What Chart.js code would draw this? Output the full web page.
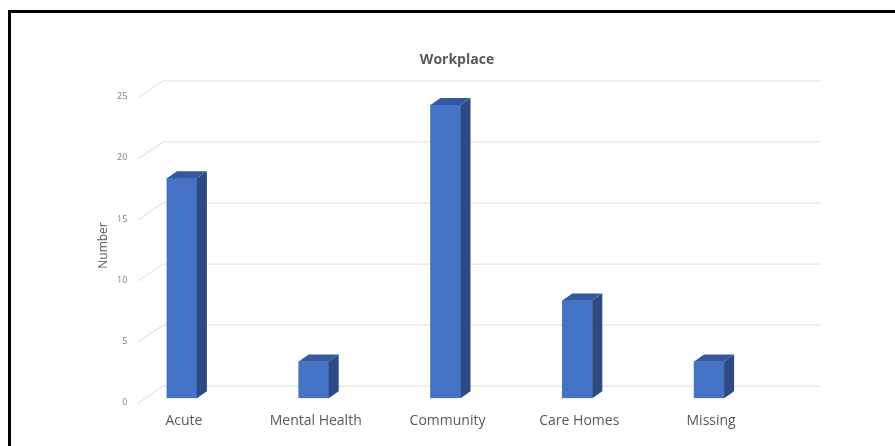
<!DOCTYPE html>
<html>
<head>
<meta charset="utf-8">
<script src="https://cdn.jsdelivr.net/npm/chart.js@4"></script>
<style>
  html, body { margin: 0; padding: 0; background: #fff; overflow: hidden; }
  #wrap { position: relative; width: 895px; height: 446px; overflow: hidden; }
  #chart { position: absolute; left: 0; top: 0; }
  .frame {
    position: absolute; left: 8px; top: 10px; width: 2000px; height: 2000px;
    border-left: 3px solid #000; border-top: 3px solid #000; pointer-events: none;
  }
</style>
</head>
<body>
<div id="wrap">
  <canvas id="chart" width="914" height="446"></canvas>
  <div class="frame"></div>
</div>
<script>
const categories = ['Acute', 'Mental Health', 'Community', 'Care Homes', 'Missing'];
const counts = [18, 3, 24, 8, 3];
const yTicks = [0, 5, 10, 15, 20, 25];

const FONT = '"Open Sans", "Noto Sans", sans-serif';
const FRONT = '#4472c4';
const SIDE = '#2c4b84';
const TOP = '#34599c';
const BAR_DEPTH = { dx: 10, dy: 7 };
const WALL = { dx: 25, dy: 17, front: 22, drop: 5, extra: 46 };

// fake 3D: back wall gridlines behind the bars, side + top faces on each bar
const depthPlugin = {
  id: 'depth',
  beforeDatasetsDraw(chart) {
    const { ctx, chartArea, scales: { y } } = chart;
    const x0 = chartArea.left + WALL.front;
    const x1 = x0 + WALL.dx;
    const x2 = chartArea.right + WALL.extra;
    ctx.save();
    ctx.strokeStyle = '#e6e6e6';
    ctx.lineWidth = 1.3;
    yTicks.forEach(v => {
      const py = y.getPixelForValue(v);
      ctx.beginPath();
      ctx.moveTo(x0, py + WALL.drop);
      ctx.lineTo(x1, py + WALL.drop - WALL.dy);
      ctx.lineTo(x2, py + WALL.drop - WALL.dy);
      ctx.stroke();
    });
    ctx.restore();
  },
  afterDatasetsDraw(chart) {
    const { ctx } = chart;
    const { dx, dy } = BAR_DEPTH;
    ctx.save();
    chart.getDatasetMeta(0).data.forEach(bar => {
      const { x, y, base, width } = bar.getProps(['x', 'y', 'base', 'width'], true);
      const l = x - width / 2, r = x + width / 2;
      ctx.fillStyle = SIDE;
      ctx.beginPath();
      ctx.moveTo(r, base);
      ctx.lineTo(r + dx, base - dy);
      ctx.lineTo(r + dx, y - dy);
      ctx.lineTo(r, y);
      ctx.closePath();
      ctx.fill();
      ctx.fillStyle = TOP;
      ctx.beginPath();
      ctx.moveTo(l, y);
      ctx.lineTo(l + dx, y - dy);
      ctx.lineTo(r + dx, y - dy);
      ctx.lineTo(r, y);
      ctx.closePath();
      ctx.fill();
    });
    ctx.restore();
  }
};

new Chart(document.getElementById('chart'), {
  type: 'bar',
  data: {
    labels: categories,
    datasets: [{
      data: counts,
      backgroundColor: FRONT,
      borderWidth: 0,
      barThickness: 30
    }]
  },
  options: {
    responsive: false,
    animation: false,
    devicePixelRatio: 1,
    layout: { padding: { left: 0, right: 0, top: 0, bottom: 3 } },
    plugins: {
      legend: { display: false },
      tooltip: { enabled: false },
      title: {
        display: true,
        text: 'Workplace',
        color: '#595959',
        font: { family: FONT, size: 14, weight: 'bold' },
        padding: { top: 52, bottom: 24 }
      }
    },
    scales: {
      x: {
        grid: { display: false, drawTicks: false },
        border: { display: false },
        ticks: {
          color: '#595959',
          font: { family: FONT, size: 14 },
          padding: 14,
          labelOffset: 2,
          maxRotation: 0
        }
      },
      y: {
        min: 0,
        max: 25,
        afterFit(scale) { scale.width = 116; },
        grid: { display: false, drawTicks: false },
        border: { display: false },
        ticks: {
          stepSize: 5,
          mirror: true,
          crossAlign: 'far',
          color: '#808080',
          font: { family: FONT, size: 9 },
          padding: 1,
          labelOffset: 4
        },
        title: {
          display: true,
          text: 'Number',
          color: '#595959',
          font: { family: FONT, size: 12 },
          padding: { top: 96, bottom: 0 }
        }
      },
      // empty spacer on the right so the plot ends before the wall does
      yRight: {
        position: 'right',
        afterFit(scale) { scale.width = 139; },
        grid: { display: false, drawTicks: false },
        border: { display: false },
        ticks: { display: false }
      }
    }
  },
  plugins: [depthPlugin]
});
</script>
</body>
</html>
